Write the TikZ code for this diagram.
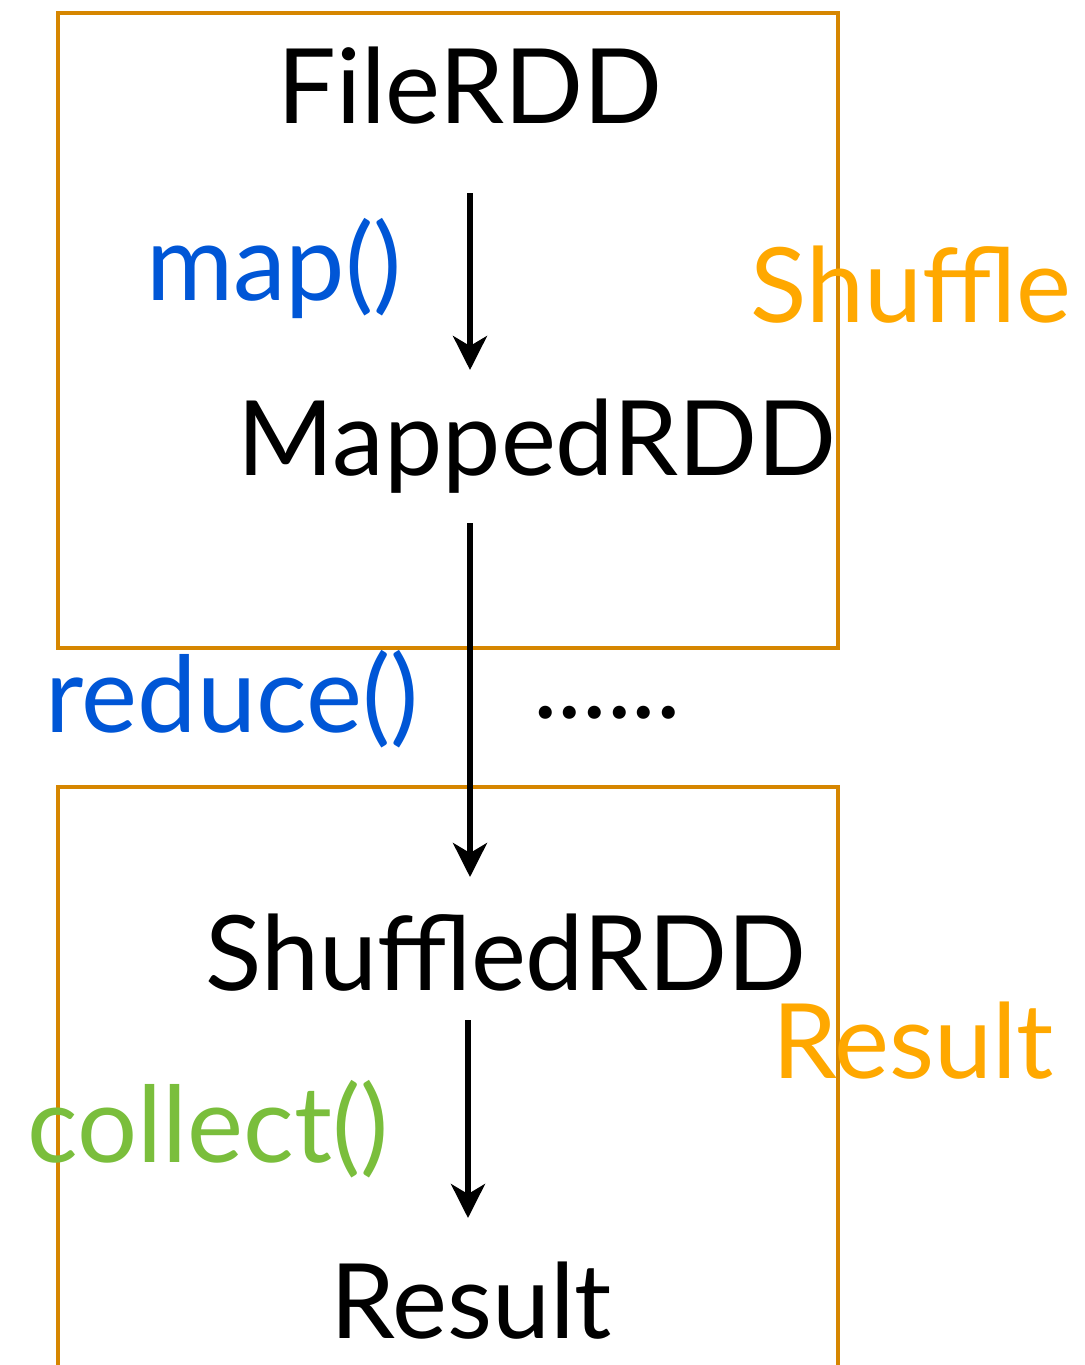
\documentclass[tikz,border=0pt]{standalone}
\usepackage{fontspec}
\setmainfont{Lato}
\usepackage{tikz}
\usetikzlibrary{positioning,arrows.meta}
\usepackage{xcolor}
\definecolor{stageline}{RGB}{214,134,0}
\definecolor{stagetext}{RGB}{255,168,0}
\definecolor{opblue}{RGB}{0,86,214}
\definecolor{opgreen}{RGB}{122,190,60}

\begin{document}
\begin{tikzpicture}[x=0.5pt,y=-0.5pt,
  rdd/.style={font=\fontsize{52}{60}\selectfont,inner sep=0pt,anchor=base},
  opname/.style={font=\fontsize{53}{60}\selectfont,inner sep=0pt,anchor=base},
  stagename/.style={font=\fontsize{52}{60}\selectfont,inner sep=0pt,anchor=base,text=stagetext},
  stagebox/.style={draw=stageline,line width=2.3pt},
  flow/.style={line width=2.6pt,-{Stealth[length=17pt,width=17pt,inset=5pt]}}]
\useasboundingbox (0,0) rectangle (1085,1365);
% stages
\draw[stagebox] (58,13) rectangle (838,648);
\draw[stagebox] (58,1400) |- (838,787) -- (838,1400);
% rdds
\node[rdd] (file) at (470,123) {FileRDD};
\node[rdd] (mapped) at (537,475) {MappedRDD};
\node[rdd] (shuffled) at (506,990) {ShuffledRDD};
\node[rdd] (result) at (471,1338) {Result};
% operations
\node[opname,text=opblue] (map) at (274,300) {map()};
\node[opname,text=opblue] (reduce) at (232,732) {reduce()};
\node[opname,text=opgreen] (collect) at (208,1162) {collect()};
\node[inner sep=0pt,font=\fontsize{52}{60}\selectfont,anchor=base] (more) at (607,718) {......};
% stage labels
\node[stagename] (shufflelbl) at (911,322) {Shuffle};
\node[stagename] (resultlbl) at (913,1078) {Result};
% arrows
\coordinate (m1) at (470,193);
\coordinate (e1) at (470,370);
\coordinate (m2) at (470,523);
\coordinate (e2) at (470,877);
\coordinate (m3) at (468,1020);
\coordinate (e3) at (468,1218);
\draw[flow] (m1) -- (e1);
\draw[flow] (m2) -- (e2);
\draw[flow] (m3) -- (e3);
\end{tikzpicture}
\end{document}
